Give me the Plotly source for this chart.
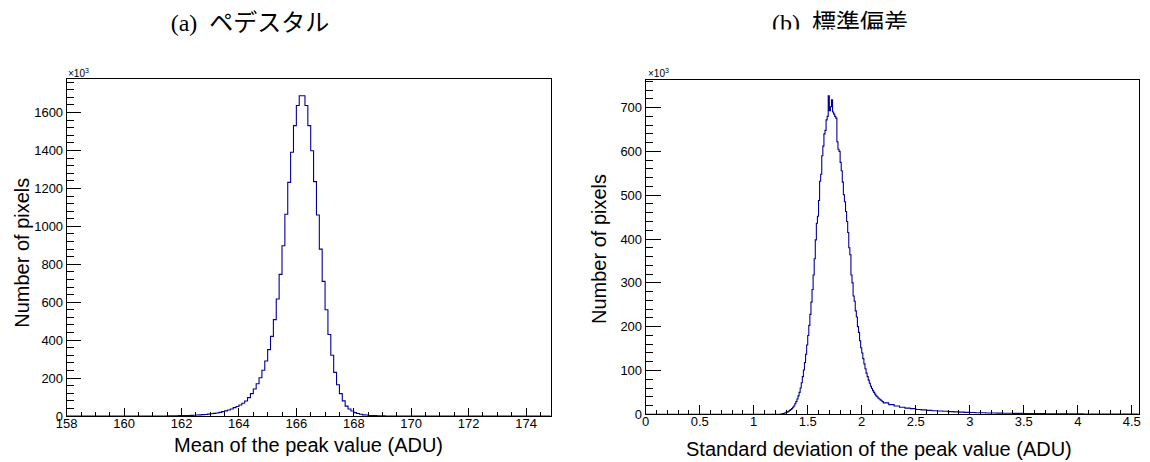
import numpy as np
import plotly.graph_objects as go

# ---------------- data (counts in units of 10^3 pixels) ----------------
# (a) pedestal: 0.1 ADU bins, left edges from 161.5
ped_first_edge = 161.5
ped_bin_width = 0.1
ped_counts = [
    1, 1, 1, 1.5, 2, 2, 2.5, 3, 3.5, 4,
    5, 6, 7, 8, 10, 12, 14, 16, 19, 23,
    27, 32, 37, 44, 50, 58, 67, 79, 97, 118,
    142, 170, 202, 241, 290, 350, 420, 508, 617, 747,
    898, 1064, 1232, 1391, 1531, 1637, 1689, 1689, 1637, 1531,
    1399, 1236, 1060, 880, 710, 560, 430, 320, 230, 165,
    118, 80, 52, 37, 26, 18, 13, 9, 6, 5,
    3, 2, 2, 1, 1, 0.5,
]

# (b) standard deviation: 0.01 ADU bins from 1.25 to 2.20, then 0.05 ADU bins to 4.55
sd_fine_first_edge = 1.25
sd_fine_width = 0.01
sd_fine_counts = [
    0.5, 1, 1.5, 2.5, 3.5, 4.5, 5.5, 7, 9, 11,
    13, 16, 19, 24, 29, 35, 42, 50, 60, 72,
    86, 101, 118, 137, 158, 180, 203, 228, 256, 285,
    318, 355, 398, 436, 452, 488, 532, 548, 590, 612,
    640, 648, 672, 680, 727, 693, 702, 718, 690, 685,
    680, 676, 622, 605, 600, 575, 556, 530, 501, 485,
    463, 440, 415, 380, 364, 318, 300, 270, 258, 236,
    222, 200, 187, 168, 152, 140, 127, 115, 104, 94,
    86, 78, 71, 64, 59, 54, 50, 46, 42, 40,
    37, 35, 33, 31, 29,
]
sd_coarse_first_edge = 2.20
sd_coarse_width = 0.05
sd_coarse_counts = [
    26, 22, 19, 16, 14, 13, 11, 10, 9, 8,
    7.5, 7, 6, 5.5, 5, 4.5, 4, 3.7, 3.4, 3.1,
    2.9, 2.7, 2.5, 2.3, 2.1, 2, 1.8, 1.7, 1.6, 1.5,
    1.4, 1.3, 1.2, 1.1, 1.0, 0.9, 0.9, 0.8, 0.8, 0.7,
    0.7, 0.6, 0.6, 0.5, 0.5, 0.5, 0.4,
]

ped_xrange = [158, 174.86]
sd_xrange = [0, 4.567]

x_title_a = "Mean of the peak value (ADU)"
x_title_b = "Standard deviation of the peak value (ADU)"
y_title = "Number of pixels"
title_a = "(a)\u2002ペデスタル"
title_b = "(b)\u2002標準偏差"

# ---------------- build step outlines ----------------
def step_outline(edges, counts, last_edge, xr):
    xs = [xr[0]] + list(edges) + [last_edge, xr[1]]
    ys = [0] + list(counts) + [0, 0]
    return xs, ys

ped_edges = ped_first_edge + ped_bin_width * np.arange(len(ped_counts))
ped_x, ped_y = step_outline(ped_edges, ped_counts,
                            ped_edges[-1] + ped_bin_width, ped_xrange)

sd_fine_edges = sd_fine_first_edge + sd_fine_width * np.arange(len(sd_fine_counts))
sd_coarse_edges = sd_coarse_first_edge + sd_coarse_width * np.arange(len(sd_coarse_counts))
sd_edges = list(sd_fine_edges) + list(sd_coarse_edges)
sd_counts = sd_fine_counts + sd_coarse_counts
sd_x, sd_y = step_outline(sd_edges, sd_counts,
                          sd_coarse_edges[-1] + sd_coarse_width, sd_xrange)

W, H = 1150, 462
def px_x(p):
    return p / W
def px_y(p):
    return 1 - p / H

LINE = "#000099"
fig = go.Figure()
fig.add_trace(go.Scatter(x=ped_x, y=ped_y, mode="lines", line_shape="hv",
                         line=dict(color=LINE, width=1.1), xaxis="x", yaxis="y",
                         hoverinfo="skip"))
fig.add_trace(go.Scatter(x=sd_x, y=sd_y, mode="lines", line_shape="hv",
                         line=dict(color=LINE, width=1.1), xaxis="x2", yaxis="y2",
                         hoverinfo="skip"))

# titles in a strip subplot (right one clipped like the reference)
TFONT = dict(family="Liberation Serif, Noto Sans CJK JP", size=24, color="black")
fig.add_trace(go.Scatter(x=[250], y=[25], mode="text", text=[title_a],
                         textposition="middle center", textfont=TFONT,
                         cliponaxis=False, xaxis="x3", yaxis="y3", hoverinfo="skip"))
fig.add_trace(go.Scatter(x=[840], y=[25], mode="text", text=[title_b],
                         textposition="middle center", textfont=TFONT,
                         cliponaxis=True, xaxis="x3", yaxis="y3", hoverinfo="skip"))

TICKFONT = dict(family="Liberation Sans, Arial, sans-serif", size=13, color="black")
common = dict(showline=True, linecolor="black", linewidth=1, mirror=True,
              showgrid=False, zeroline=False, ticks="inside", tickcolor="black",
              tickwidth=1, tickfont=TICKFONT, fixedrange=True, automargin=False)

# panel geometry (pixels)
a_l, a_r, a_t, a_b = 66.7, 550.7, 79, 416
b_l, b_r, b_t, b_b = 645.7, 1139, 80, 414.3

fig.update_layout(
    width=W, height=H, margin=dict(l=0, r=0, t=0, b=0, autoexpand=False),
    paper_bgcolor="white", plot_bgcolor="white", showlegend=False,
    xaxis=dict(domain=[px_x(a_l), px_x(a_r)], range=ped_xrange, anchor="y",
               tick0=158, dtick=2, ticklen=8, ticklabelstandoff=-5,
               minor=dict(ticks="inside", ticklen=4, dtick=0.5, tick0=158,
                          tickcolor="black", showgrid=False), **common),
    yaxis=dict(domain=[px_y(a_b), px_y(a_t)], range=[0, 1777], anchor="x",
               tick0=0, dtick=200, ticklen=14,
               minor=dict(ticks="inside", ticklen=7, dtick=40, tick0=0,
                          tickcolor="black", showgrid=False), **common),
    xaxis2=dict(domain=[px_x(b_l), px_x(b_r)], range=sd_xrange, anchor="y2",
                tick0=0, dtick=0.5, ticklen=9, ticklabelstandoff=-5,
                minor=dict(ticks="inside", ticklen=4.5, dtick=0.1, tick0=0,
                           tickcolor="black", showgrid=False), **common),
    yaxis2=dict(domain=[px_y(b_b), px_y(b_t)], range=[0, 763], anchor="x2",
                tick0=0, dtick=100, ticklen=15,
                minor=dict(ticks="inside", ticklen=7.5, dtick=20, tick0=0,
                           tickcolor="black", showgrid=False), **common),
    xaxis3=dict(domain=[0, 1], range=[0, W], visible=False, anchor="y3",
                fixedrange=True, automargin=False),
    yaxis3=dict(domain=[px_y(29.5), 1], range=[29.5, 0], visible=False, anchor="x3",
                fixedrange=True, automargin=False),
)

AFONT = dict(family="Liberation Sans, Arial, sans-serif", size=20, color="black")
ann = [
    dict(x=px_x(308.7), y=px_y(444.7), text=x_title_a, font=AFONT),
    dict(x=px_x(879), y=px_y(449), text=x_title_b, font=AFONT),
    dict(x=px_x(21.3), y=px_y(252.5), text=y_title, font=AFONT, textangle=-90),
    dict(x=px_x(599), y=px_y(249), text=y_title, font=AFONT, textangle=-90),
    dict(x=px_x(65.5), y=px_y(73), text="×10<sup>3</sup>", xanchor="left",
         font=dict(family="Liberation Sans, Arial, sans-serif", size=10, color="black")),
    dict(x=px_x(645.5), y=px_y(73), text="×10<sup>3</sup>", xanchor="left",
         font=dict(family="Liberation Sans, Arial, sans-serif", size=10, color="black")),
]
for a in ann:
    a.setdefault("xanchor", "center")
    a.setdefault("yanchor", "middle")
    fig.add_annotation(xref="paper", yref="paper", showarrow=False, **a)

fig.write_html("out.html")
